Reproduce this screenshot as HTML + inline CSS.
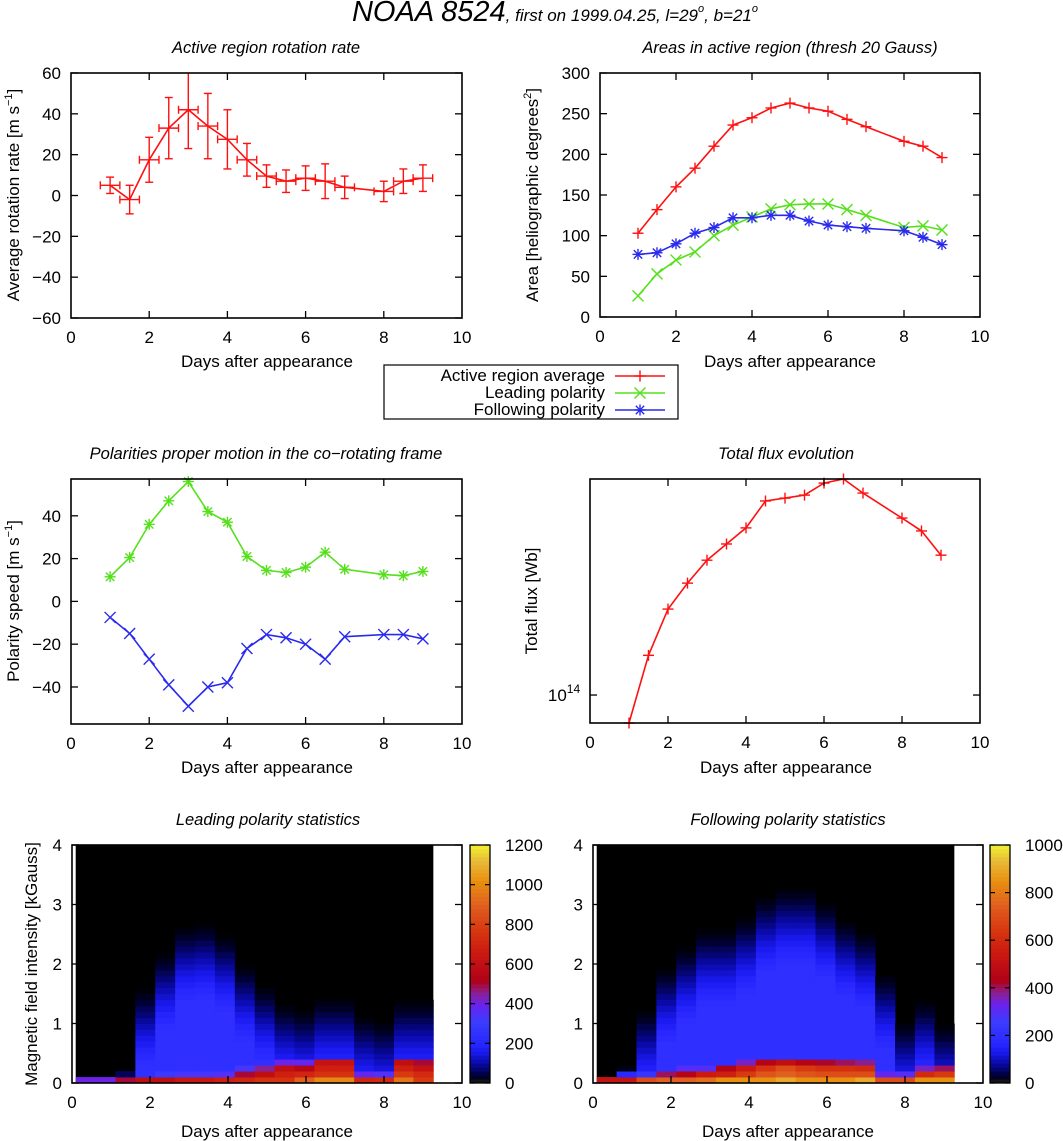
<!DOCTYPE html>
<html><head><meta charset="utf-8">
<style>
html,body{margin:0;padding:0;background:#fff;}
svg{display:block;font-family:"Liberation Sans",Arial,sans-serif;}
.tk{font-size:17px;fill:#000;}
.tt{font-size:16.5px;font-style:italic;fill:#000;}
.al{font-size:17px;fill:#000;}
</style></head>
<body>
<svg id="chart" width="1063" height="1141" viewBox="0 0 1063 1141" xmlns="http://www.w3.org/2000/svg">
<defs>
<clipPath id="c1"><rect x="71" y="73" width="391" height="245"/></clipPath>
</defs>
<text x="555" y="21" text-anchor="middle" font-style="italic" fill="#000"><tspan font-size="29">NOAA 8524</tspan><tspan font-size="17">, first on 1999.04.25, l=29</tspan><tspan font-size="11" dy="-9">o</tspan><tspan font-size="17" dy="9">, b=21</tspan><tspan font-size="11" dy="-9">o</tspan></text>

<text class="tt" x="266" y="53" text-anchor="middle">Active region rotation rate</text>
<text class="tt" x="790" y="53" text-anchor="middle">Areas in active region (thresh 20 Gauss)</text>
<text class="tt" x="266" y="459" text-anchor="middle">Polarities proper motion in the co−rotating frame</text>
<text class="tt" x="786" y="459" text-anchor="middle">Total flux evolution</text>
<text class="tt" x="268" y="825" text-anchor="middle">Leading polarity statistics</text>
<text class="tt" x="788" y="825" text-anchor="middle">Following polarity statistics</text>

<text class="al" x="267" y="367" text-anchor="middle">Days after appearance</text>
<text class="al" x="790" y="367" text-anchor="middle">Days after appearance</text>
<text class="al" x="267" y="773" text-anchor="middle">Days after appearance</text>
<text class="al" x="786" y="773" text-anchor="middle">Days after appearance</text>
<text class="al" x="267" y="1137" text-anchor="middle">Days after appearance</text>
<text class="al" x="788" y="1137" text-anchor="middle">Days after appearance</text>

<text class="al" transform="translate(19,195) rotate(-90)" text-anchor="middle">Average rotation rate [m s<tspan font-size="11" dy="-7">−1</tspan><tspan dy="7">]</tspan></text>
<text class="al" transform="translate(538,195) rotate(-90)" text-anchor="middle">Area [heliographic degrees<tspan font-size="11" dy="-7">2</tspan><tspan dy="7">]</tspan></text>
<text class="al" transform="translate(19,601) rotate(-90)" text-anchor="middle">Polarity speed [m s<tspan font-size="11" dy="-7">−1</tspan><tspan dy="7">]</tspan></text>
<text class="al" transform="translate(537,601) rotate(-90)" text-anchor="middle">Total flux [Wb]</text>
<text class="al" transform="translate(37,964) rotate(-90)" text-anchor="middle">Magnetic field intensity [kGauss]</text>

<g id="legend">
<rect x="384" y="365" width="294" height="54" fill="#fff" stroke="#000" stroke-width="1.2"/>
<text class="al" x="605" y="381" text-anchor="end">Active region average</text>
<text class="al" x="605" y="398" text-anchor="end">Leading polarity</text>
<text class="al" x="605" y="415" text-anchor="end">Following polarity</text>
</g>
<g id="plots"></g>
</svg>
<script>
// ---- data ----
const days = [1,1.5,2,2.5,3,3.5,4,4.5,5,5.5,6,6.5,7,8,8.5,9];
const rotRate = [5,-2,17.5,33,42,34,27.5,17.5,9.5,7,8.5,7,4,2,7,8.5];
const rotErr = [4,7,11,15,19,16,14.5,8,5.5,5.5,6,8.5,5.5,5,6,6.5];
const areaAvg = [103,132,160,183,210,236,245,257,263,257,253,243,234,216,210,196];
const areaLead = [26,53,70,80,100,113,123,133,138,139,139,132,125,110,112,107];
const areaFoll = [77,79,90,103,110,122,122,125,125,118,113,111,109,106,98,89];
const speedLead = [11.5,20.5,36,47,56,42,37,21,14.5,13.5,16,23,15,12.5,12,14];
const speedFoll = [-7.5,-15,-27,-39,-49,-40,-38,-22,-15.5,-17,-20,-27,-16.5,-15.5,-15.5,-17.5];
const fluxE14 = [0.793,1.39,2.04,2.53,3.06,3.50,4.00,5.00,5.12,5.25,5.80,6.0,5.34,4.34,3.90,3.19];
const xTicks = [0,2,4,6,8,10];
const rotTicks = [-60,-40,-20,0,20,40,60];
const areaTicks = [0,50,100,150,200,250,300];
const speedTicks = [-40,-20,0,20,40];
const fieldTicks = [0,1,2,3,4];
const cbTicksL = [0,200,400,600,800,1000,1200];
const cbTicksR = [0,200,400,600,800,1000];
const hmDays = [0.35,0.86,1.37,1.88,2.39,2.9,3.41,3.92,4.43,4.94,5.45,5.96,6.47,6.98,7.49,8.0,8.51,9.01];
const leadHeight = [0,0,0.2,1.6,2.2,2.65,2.7,2.5,2.0,1.65,1.35,1.25,1.45,1.45,1.15,1.05,1.4,1.4];
const leadRow0 = [400,400,500,600,600,650,650,680,700,750,750,900,1000,1000,700,720,950,780];
const leadRow1 = [0,0,60,250,300,330,330,350,500,600,680,700,750,750,380,350,780,720];
const leadRow2 = [0,0,0,0,0,0,0,0,330,450,600,550,680,680,0,0,680,620];
const leadRow3 = [0,0,0,0,0,0,0,0,0,0,400,380,620,620,0,0,600,500];
const follHeight = [0.1,0.35,1.25,1.95,2.3,2.6,2.6,2.8,3.15,3.3,3.3,3.05,2.75,2.55,1.85,1.05,1.4,1.0];
const follRow0 = [520,520,700,750,750,780,850,850,850,900,850,850,850,900,700,700,850,850];
const follRow1 = [0,170,230,400,450,550,570,650,720,750,720,700,700,700,320,300,600,650];
const follRow2 = [0,0,0,0,300,300,450,550,630,700,650,620,620,600,0,0,350,400];
const follRow3 = [0,0,0,0,0,0,0,350,450,500,450,420,400,380,0,0,0,0];

const NS = 'http://www.w3.org/2000/svg';
const root = document.getElementById('plots');
function mk(tag, attrs, parent){
  const e = document.createElementNS(NS, tag);
  for (const k in attrs) e.setAttribute(k, attrs[k]);
  (parent || root).appendChild(e);
  return e;
}
function lin(d0,d1,r0,r1){ return v => r0 + (v-d0)*(r1-r0)/(d1-d0); }
const RED='#ff1010', GREEN='#55e01c', BLUE='#2a2aee';

function frame(L,R,T,B,name){
  const r = mk('rect',{x:L,y:T,width:R-L,height:B-T,fill:'none',stroke:'#000','stroke-width':1.6});
  
  
}
function xAxis(L,R,T,B,sx,ticks,name,inner){
  ticks.forEach(t=>{
    const x = sx(t);
    if (t>0 && t<10){
      const a = mk('line',{x1:x,x2:x,y1:B,y2:B-7,stroke:'#000','stroke-width':1.3});
      
      
      if (inner!==false){
        const b = mk('line',{x1:x,x2:x,y1:T,y2:T+7,stroke:'#000','stroke-width':1.3});
        
        
      }
    }
    const lb = mk('text',{x:x,y:B+25,'text-anchor':'middle',class:'tk'});
    lb.textContent = t;
    
    
  });
}
function yAxis(L,R,sy,ticks,name,both){
  ticks.forEach((t,i)=>{
    const y = sy(t);
    const a = mk('line',{x1:L,x2:L+7,y1:y,y2:y,stroke:'#000','stroke-width':1.3});
    
    
    if (both!==false){
      const b = mk('line',{x1:R,x2:R-7,y1:y,y2:y,stroke:'#000','stroke-width':1.3});
      
      
    }
    const lb = mk('text',{x:L-10,y:y+6,'text-anchor':'end',class:'tk'});
    lb.textContent = String(t).replace('-','−');
    
    
  });
}
function marker(x,y,type,color,name,parent){
  const g = mk('g',{stroke:color,'stroke-width':1.4,fill:'none'},parent);
  
  
  const s=5.5;
  if (type==='+'||type==='*'){
    mk('line',{x1:x-s,x2:x+s,y1:y,y2:y},g); mk('line',{x1:x,x2:x,y1:y-s,y2:y+s},g);
  }
  if (type==='x'||type==='*'){
    const d = type==='*'?4.2:5.5;
    mk('line',{x1:x-d,x2:x+d,y1:y-d,y2:y+d},g); mk('line',{x1:x-d,x2:x+d,y1:y+d,y2:y-d},g);
  }
}
function series(xs,ys,sx,sy,color,type,name,parent){
  const pts = xs.map((d,i)=>sx(d).toFixed(1)+','+sy(ys[i]).toFixed(1)).join(' ');
  const pl = mk('polyline',{points:pts,fill:'none',stroke:color,'stroke-width':1.6},parent);
  
  
  xs.forEach((d,i)=>marker(sx(d),sy(ys[i]),type,color,name+'-point',parent));
}

// ---- Panel 1: rotation rate ----
(function(){
  const L=71,R=462,T=73,B=318;
  const sx=lin(0,10,L,R), sy=lin(-60,60,B,T);
  const g = mk('g',{'clip-path':'url(#c1)'});
  
  
  days.forEach((d,i)=>{
    const x=sx(d), y=sy(rotRate[i]), y1=sy(rotRate[i]-rotErr[i]), y2=sy(rotRate[i]+rotErr[i]);
    const xa=sx(d-0.25), xb=sx(d+0.25);
    const e = mk('g',{stroke:RED,'stroke-width':1.4},g);
    
    
    mk('line',{x1:x,x2:x,y1:y1,y2:y2},e);
    mk('line',{x1:x-4,x2:x+4,y1:y1,y2:y1},e);
    mk('line',{x1:x-4,x2:x+4,y1:y2,y2:y2},e);
    mk('line',{x1:xa,x2:xb,y1:y,y2:y},e);
    mk('line',{x1:xa,x2:xa,y1:y-4,y2:y+4},e);
    mk('line',{x1:xb,x2:xb,y1:y-4,y2:y+4},e);
  });
  const pts = days.map((d,i)=>sx(d)+','+sy(rotRate[i])).join(' ');
  const pl = mk('polyline',{points:pts,fill:'none',stroke:RED,'stroke-width':1.6},g);
  
  
  frame(L,R,T,B,'rotation-plot-frame');
  xAxis(L,R,T,B,sx,xTicks,'rotation-x');
  yAxis(L,R,sy,rotTicks,'rotation-y');
})();

// ---- Panel 2: areas ----
(function(){
  const L=600,R=980,T=73,B=317;
  const sx=lin(0,10,L,R), sy=lin(0,300,B,T);
  series(days,areaAvg,sx,sy,RED,'+','area-average');
  series(days,areaLead,sx,sy,GREEN,'x','area-leading');
  series(days,areaFoll,sx,sy,BLUE,'*','area-following');
  frame(L,R,T,B,'areas-plot-frame');
  xAxis(L,R,T,B,sx,xTicks,'areas-x');
  yAxis(L,R,sy,areaTicks,'areas-y');
})();

// legend samples
(function(){
  const lg = document.getElementById('legend');
  [[376,RED,'+'],[393,GREEN,'x'],[410,BLUE,'*']].forEach((r,i)=>{
    const l = mk('line',{x1:615,x2:665,y1:r[0],y2:r[0],stroke:r[1],'stroke-width':1.6},lg);
    
    
    marker(640,r[0],r[2],r[1],'legend-sample-marker',lg);
  });
})();

// ---- Panel 3: polarity speed ----
(function(){
  const L=71,R=462,T=479,B=724;
  const sx=lin(0,10,L,R), sy=lin(-57.3,57.2,B,T);
  series(days,speedLead,sx,sy,GREEN,'*','speed-leading');
  series(days,speedFoll,sx,sy,BLUE,'x','speed-following');
  frame(L,R,T,B,'speed-plot-frame');
  xAxis(L,R,T,B,sx,xTicks,'speed-x');
  yAxis(L,R,sy,speedTicks,'speed-y');
})();

// ---- Panel 4: flux (log) ----
(function(){
  const L=590,R=980,T=479,B=723;
  const sx=lin(0,10,L,R);
  const lmin=Math.log10(0.793), lmax=Math.log10(6.0);
  const sy=v=>B-(Math.log10(v)-lmin)*(B-T)/(lmax-lmin);
  series(days,fluxE14,sx,sy,RED,'+','flux');
  frame(L,R,T,B,'flux-plot-frame');
  xAxis(L,R,T,B,sx,xTicks,'flux-x');
  const y=sy(1);
  const a=mk('line',{x1:L,x2:L+7,y1:y,y2:y,stroke:'#000','stroke-width':1.3});
   
  const b=mk('line',{x1:R,x2:R-7,y1:y,y2:y,stroke:'#000','stroke-width':1.3});
   
  const t=mk('text',{x:L-26,y:y+6,'text-anchor':'middle',class:'tk'});
   
  t.innerHTML='10<tspan font-size="12" dy="-8">14</tspan>';
})();

// ---- Heatmaps ----
const palStops=[[0,'#000000'],[0.03,'#000030'],[0.08,'#0808a0'],[0.13,'#1a1af0'],[0.17,'#2828ff'],[0.26,'#3c3cff'],[0.33,'#6a22ee'],[0.38,'#8a2090'],[0.43,'#b00018'],[0.55,'#cc1a10'],[0.65,'#d83a10'],[0.75,'#e06020'],[0.85,'#e89010'],[0.93,'#e8b838'],[1,'#f0f030']];
function hex(c){return [1,3,5].map(i=>parseInt(c.substr(i,2),16));}
function pal(f){
  f=Math.max(0,Math.min(1,f));
  for(let i=1;i<palStops.length;i++){
    if(f<=palStops[i][0]){
      const a=palStops[i-1],b=palStops[i],t=(f-a[0])/(b[0]-a[0]);
      const ca=hex(a[1]),cb=hex(b[1]);
      return 'rgb('+ca.map((v,k)=>Math.round(v+(cb[k]-v)*t)).join(',')+')';
    }
  }
  return palStops[palStops.length-1][1];
}
function heatmap(L,R,T,B,cbL,vmax,heights,r0,r1,r2,r3,cbTicks,name){
  const sx=lin(0,10,L,R), sy=lin(0,4,B,T);
  const w=0.51, dh=0.1;
  const bg=mk('rect',{x:sx(hmDays[0]-w/2),y:T,width:sx(hmDays[hmDays.length-1]+w/2)-sx(hmDays[0]-w/2),height:B-T,fill:'#000'});
   
  const g=mk('g',{});
   
  const hot=[r0,r1,r2,r3];
  hmDays.forEach((d,j)=>{
    const H=heights[j];
    for(let r=0;r<40;r++){
      const b=(r+0.5)*dh;
      let v=0;
      if(b<H){ v=0.2*vmax*Math.min(1,Math.pow((H-b)/1.3,1.1)); }
      if(r<4 && hot[r][j]>0) v=Math.max(v,hot[r][j]);
      if(v<=0) continue;
      const c=mk('rect',{x:sx(d-w/2),y:sy((r+1)*dh),width:sx(d+w/2)-sx(d-w/2)+0.4,height:sy(0)-sy(dh)+0.4,fill:pal(v/vmax)},g);
      
      
    }
  });
  frame(L,R,T,B,name+'-frame');
  xAxis(L,R,T,B,sx,xTicks,name+'-x',false);
  yAxis(L,R,sy,fieldTicks,name+'-y');
  const cg=mk('g',{});
   
  const n=60, ch=(B-T)/n;
  for(let i=0;i<n;i++){
    const f=(i+0.5)/n;
    mk('rect',{x:cbL,y:B-(i+1)*ch,width:20,height:ch+0.5,fill:i===0?'#141414':pal(f)},cg);
  }
  mk('rect',{x:cbL,y:T,width:20,height:B-T,fill:'none',stroke:'#000','stroke-width':1.3},cg);
  const sc=lin(0,vmax,B,T);
  cbTicks.forEach(t=>{
    const y=sc(t);
    mk('line',{x1:cbL,x2:cbL+5,y1:y,y2:y,stroke:'#000','stroke-width':1.2},cg);
    mk('line',{x1:cbL+20,x2:cbL+15,y1:y,y2:y,stroke:'#000','stroke-width':1.2},cg);
    const lb=mk('text',{x:cbL+35,y:y+6,'text-anchor':'start',class:'tk'},cg);
    lb.textContent=t;
    
    
  });
}
heatmap(72,462,845,1083,470,1200,leadHeight,leadRow0,leadRow1,leadRow2,leadRow3,cbTicksL,'leading-heatmap');
heatmap(593,983,845,1083,990,1000,follHeight,follRow0,follRow1,follRow2,follRow3,cbTicksR,'following-heatmap');
</script>
</body></html>
